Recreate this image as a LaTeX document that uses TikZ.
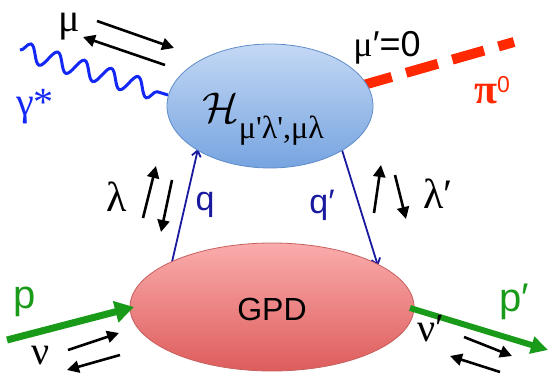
\documentclass[tikz,border=0pt]{standalone}
\usepackage{graphicx}
\usepackage{fontspec}
\setmainfont{Liberation Sans}
\newfontfamily\grk{Liberation Serif}
\usetikzlibrary{arrows.meta,shapes.geometric,decorations.pathmorphing}
\definecolor{phblue}{RGB}{20,40,245}
\definecolor{pired}{RGB}{255,40,0}
\definecolor{grn}{RGB}{25,155,25}
\definecolor{qblue}{RGB}{25,25,160}
\definecolor{Htop}{RGB}{196,216,244}
\definecolor{Hbot}{RGB}{118,164,224}
\definecolor{Hbord}{RGB}{95,140,200}
\definecolor{Gtop}{RGB}{250,172,172}
\definecolor{Gbot}{RGB}{222,92,92}
\definecolor{Gbord}{RGB}{200,95,95}
\tikzset{
  spin/.style={line width=2.6pt,-{Triangle[length=12pt,width=12pt]}},
  quark/.style={qblue,line width=1.8pt,-{Straight Barb[length=6pt,width=9pt,line width=1.8pt]}},
  lbl/.style={inner sep=0pt,font=\fontsize{34}{34}\selectfont},
  glbl/.style={inner sep=0pt,font=\fontsize{40}{40}\selectfont\grk},
}
\begin{document}
\begin{tikzpicture}[x=1pt,y=-1pt]
\useasboundingbox (0,0) rectangle (549,375);
% coordinates
\coordinate (w1) at (20,50);
\coordinate (w2) at (168,95);
\coordinate (pi1) at (360,86);
\coordinate (pi2) at (514,42);
\coordinate (qs) at (172,262);
\coordinate (qe) at (198,149);
\coordinate (q2s) at (342,150);
\coordinate (q2e) at (378,266);
\coordinate (p1) at (7,340);
\coordinate (p2) at (134,307);
\coordinate (pp1) at (410,308);
\coordinate (pp2) at (548,350);
% lines behind
\draw[phblue,line width=3pt,decorate,decoration={snake,segment length=28pt,amplitude=9pt}] (w1) -- (w2);
\draw[pired,line width=10pt,dash pattern=on 33pt off 15pt] (pi1) -- (pi2);
\draw[quark] (qs) -- (qe);
\draw[quark] (q2s) -- (q2e);
% blobs
\node[ellipse,draw=Hbord,line width=0.8pt,top color=Htop,bottom color=Hbot,minimum width=206pt,minimum height=124pt,inner sep=0pt] (H) at (270,106) {};
\node[ellipse,draw=Gbord,line width=0.8pt,top color=Gtop,bottom color=Gbot,minimum width=284pt,minimum height=128pt,inner sep=0pt] (G) at (272,307) {};
\node[inner sep=0pt,anchor=base west] (Hl) at (202,122) {\scalebox{4.3}{$\mathcal{H}$}\raisebox{-16pt}{\fontsize{32}{32}\selectfont\grk μ'λ',μλ}};
\node[inner sep=0pt,font=\fontsize{32}{32}\selectfont] (Gl) at (272,309) {GPD};
% green arrows
\draw[grn,line width=7pt,-{Triangle[length=19pt,width=21pt]}] (p1) -- (p2);
\draw[grn,line width=6pt,-{Triangle[length=17pt,width=17pt]}] (pp1) -- (pp2);
% spin arrows
\coordinate (m1a) at (97,21); \coordinate (m1b) at (174,48);
\coordinate (m2a) at (165,65); \coordinate (m2b) at (83,37);
\draw[spin] (m1a) -- (m1b);
\draw[spin] (m2a) -- (m2b);
\coordinate (l1a) at (143,218); \coordinate (l1b) at (156,166);
\coordinate (l2a) at (172,180); \coordinate (l2b) at (161,232);
\draw[spin] (l1a) -- (l1b);
\draw[spin] (l2a) -- (l2b);
\coordinate (r1a) at (374,213); \coordinate (r1b) at (381,165);
\coordinate (r2a) at (395,175); \coordinate (r2b) at (406,219);
\draw[spin] (r1a) -- (r1b);
\draw[spin] (r2a) -- (r2b);
\coordinate (n1a) at (68,350); \coordinate (n1b) at (119,333);
\coordinate (n2a) at (120,355); \coordinate (n2b) at (67,370);
\draw[spin] (n1a) -- (n1b);
\draw[spin] (n2a) -- (n2b);
\coordinate (k1a) at (464,337); \coordinate (k1b) at (512,356);
\coordinate (k2a) at (500,372); \coordinate (k2b) at (450,356);
\draw[spin] (k1a) -- (k1b);
\draw[spin] (k2a) -- (k2b);
% labels
\node[glbl,anchor=base] (mu) at (69,31) {μ};
\node[glbl,phblue] (gam) at (35,107) {γ*};
\node[inner sep=0pt,font=\fontsize{36}{36}\selectfont,anchor=base] (mup) at (387,56) {{\grk μ}′=0};
\node[inner sep=0pt,pired,anchor=base west] (pi0) at (474,103) {\fontsize{42}{42}\selectfont{\grk\bfseries π}\raisebox{11pt}{\fontsize{23}{23}\selectfont 0}};
\node[glbl,font=\fontsize{42}{42}\selectfont\grk] (lam) at (117,197) {λ};
\node[lbl,qblue] (ql) at (205,205) {q};
\node[lbl,qblue] (qpl) at (322,205) {q′};
\node[glbl,font=\fontsize{42}{42}\selectfont\grk] (lamp) at (438,194) {λ′};
\node[lbl,grn,font=\fontsize{40}{40}\selectfont] (pl) at (25,302) {p};
\node[glbl] (nu) at (41,356) {ν};
\node[glbl] (nup) at (431,329) {ν′};
\node[lbl,grn,font=\fontsize{40}{40}\selectfont] (ppl) at (514,302) {p′};
\end{tikzpicture}
\end{document}
